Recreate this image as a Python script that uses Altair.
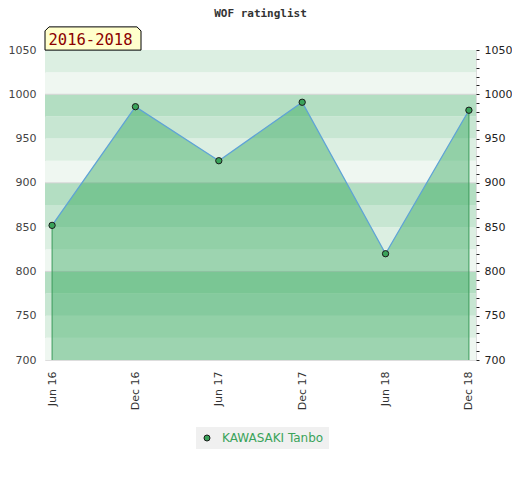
import altair as alt
import pandas as pd

# ---- data ----
dates = ["Jun 16", "Dec 16", "Jun 17", "Dec 17", "Jun 18", "Dec 18"]
ratings = [852, 986, 925, 991, 820, 982]
player = "KAWASAKI Tanbo"
period_label = "2016-2018"

band_low = list(range(700, 1050, 25))
band_shades = ["#eff7f1", "#dcefe2", "#c7e6d2", "#b3dec2"]
grid_values = [800, 900, 1000]

y_labels = list(range(700, 1051, 50))
y_minor = list(range(700, 1051, 10))

df = pd.DataFrame({"date": dates, "rating": ratings, "player": [player] * len(dates)})
bands = pd.DataFrame({
    "lo": band_low,
    "hi": [b + 25 for b in band_low],
    "shade": [band_shades[(b // 25) % 4] for b in band_low],
})
grid = pd.DataFrame({"v": grid_values})
edges = df.iloc[[0, len(df) - 1]].assign(base=700)

ydom = [700, 1050]
xscale = alt.Scale(type="point", domain=dates, padding=0.085)
yscale = alt.Scale(domain=ydom, nice=False, zero=False)

X = alt.X("date:O", scale=xscale, sort=dates,
          axis=alt.Axis(title=None, labelAngle=-90, ticks=False, domain=False,
                        labelFont="DejaVu Sans", labelFontSize=11, labelColor="#333",
                        labelPadding=11))

band_layer = alt.Chart(bands).mark_rect().encode(
    y=alt.Y("lo:Q", scale=yscale, axis=None),
    y2="hi:Q",
    color=alt.Color("shade:N", scale=None, legend=None),
)

grid_layer = alt.Chart(grid).mark_rule(color="#d4d4d4", strokeWidth=1).encode(
    y=alt.Y("v:Q", scale=yscale, axis=None)
)

area = alt.Chart(df).mark_area(color="#2ca556", opacity=0.42).encode(
    x=X,
    y=alt.Y("rating:Q", scale=yscale, axis=None),
    y2=alt.datum(700),
)

line = alt.Chart(df).mark_line(color="#5fa3d6", strokeWidth=1.3).encode(
    x=X,
    y=alt.Y("rating:Q", scale=yscale,
            axis=alt.Axis(orient="left", title=None, values=y_labels, ticks=False,
                          domain=False, grid=False, format="d", labelFont="DejaVu Sans",
                          labelFontSize=11, labelColor="#444", labelPadding=9)),
)

edge_rules = alt.Chart(edges).mark_rule(color="#3a9a5a", strokeWidth=1).encode(
    x=X,
    y=alt.Y("rating:Q", scale=yscale,
            axis=alt.Axis(orient="right", title=None, values=y_minor, tickSize=3,
                          tickColor="#222", domain=False, grid=False, format="d",
                          labelExpr="datum.value % 50 == 0 ? datum.label : ''",
                          labelFont="DejaVu Sans", labelFontSize=11,
                          labelColor="#222", labelPadding=5)),
    y2="base:Q",
)

points = alt.Chart(df).mark_point(filled=True, size=40, stroke="#1a1a1a",
                                  strokeWidth=1, opacity=1).encode(
    x=X,
    y=alt.Y("rating:Q", scale=yscale, axis=None),
    fill=alt.Fill("player:N", scale=alt.Scale(range=["#3aa35a"]),
                  legend=alt.Legend(title=None, orient="none", legendX=151, legendY=377,
                                    fillColor="#f0f0f0", padding=5, symbolType="circle",
                                    symbolSize=36, symbolStrokeColor="#1a1a1a",
                                    symbolStrokeWidth=1, labelColor="#3aa35a",
                                    labelFont="DejaVu Sans", labelFontSize=12,
                                    labelOffset=9)),
)

box_path = "M -1 0.242 L -1 -0.158 L -0.916 -0.242 L 0.916 -0.242 L 1 -0.158 L 1 0.242 Z"
box_df = pd.DataFrame({"label": [period_label]})
box = alt.Chart(box_df).mark_point(shape=box_path, filled=True, fill="#ffffcc",
                                   stroke="#000", strokeWidth=1, size=96 * 96,
                                   opacity=1).encode(
    x=alt.value(48), y=alt.value(-11.5)
)
box_text = alt.Chart(box_df).mark_text(font="DejaVu Sans Mono", fontSize=15.5,
                                       color="#8b0000", align="center",
                                       baseline="middle").encode(
    x=alt.value(45.5), y=alt.value(-10.5), text="label:N"
)

chart = alt.layer(
    band_layer, grid_layer, area, line, edge_rules, points, box, box_text
).resolve_axis(y="independent").properties(
    width=431,
    height=310,
    title=alt.Title("WOF ratinglist", font="DejaVu Sans Mono", fontSize=11,
                    fontWeight="bold", color="#333", anchor="middle", offset=6),
    autosize=alt.AutoSizeParams(type="none"),
    padding={"left": 37, "top": 42, "right": 36, "bottom": 112},
).configure_view(stroke="#d0d0d0", strokeWidth=1).configure(background="white")

chart.save("out.html", embed_options={"renderer": "svg", "actions": False})
